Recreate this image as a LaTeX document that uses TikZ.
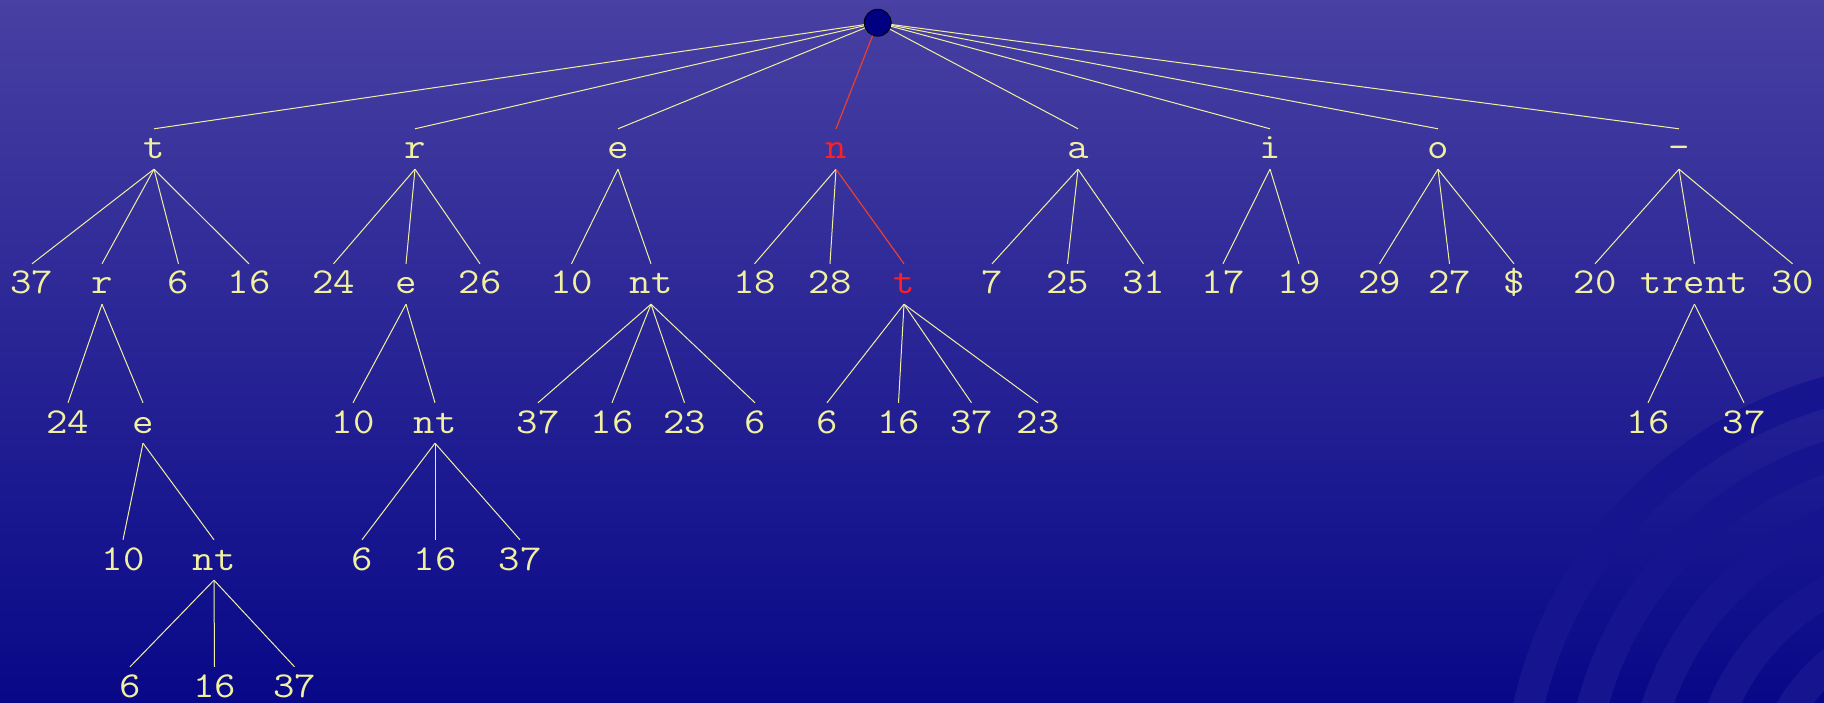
\documentclass[tikz,border=0pt]{standalone}
\usepackage{fontspec}
\newfontfamily\labfont[FakeStretch=1.14]{Latin Modern Mono}
\definecolor{labc}{RGB}{240,240,160}
\definecolor{hlc}{RGB}{255,32,32}
\definecolor{hledge}{RGB}{232,64,48}
\definecolor{bgtop}{RGB}{72,64,162}
\definecolor{bgbot}{RGB}{8,8,136}
\definecolor{ringc}{RGB}{22,20,142}
\definecolor{rootc}{RGB}{0,0,128}
\begin{document}
\begin{tikzpicture}[x=1pt,y=-1pt,
  lab/.style={font=\labfont\fontsize{36.5}{40}\selectfont, text=labc, inner sep=0pt, text height=30pt, text depth=10pt},
  lastrow/.style={text depth=2pt},
  hl/.style={text=hlc},
  link/.style={draw=labc, line width=1pt},
  hllink/.style={draw=hledge, line width=1.2pt}]
\useasboundingbox (0,0) rectangle (1824,703);
\shade[top color=bgtop, bottom color=bgbot] (0,0) rectangle (1824,703);
\begin{scope}
\clip (0,0) rectangle (1824,703);
\foreach \r in {437,375,313,251,189}{
  \fill[ringc, even odd rule] (1940,798) circle[radius=\r pt] (1940,798) circle[radius={(\r-31)*1pt}];
}
\end{scope}
% root
\node[circle, fill=rootc, draw=black, line width=0.8pt, minimum size=27pt, inner sep=0pt] (root) at (877.7,22.7) {};
% row 1
\node[lab] (n1t) at (154,149) {t};
\node[lab] (n1r) at (415,149) {r};
\node[lab] (n1e) at (618,149) {e};
\node[lab,hl] (n1n) at (836,149) {n};
\node[lab] (n1a) at (1078,149) {a};
\node[lab] (n1i) at (1270,149) {i};
\node[lab] (n1o) at (1438,149) {o};
\node[lab] (n1d) at (1679,149) {-};
% row 2
\node[lab] (t37) at (32,284) {37};
\node[lab] (tr) at (102,284) {r};
\node[lab] (t6) at (178.5,284) {6};
\node[lab] (t16) at (249,284) {16};
\node[lab] (r24) at (333.5,284) {24};
\node[lab] (re) at (406,284) {e};
\node[lab] (r26) at (480,284) {26};
\node[lab] (e10) at (571.5,284) {10};
\node[lab] (ent) at (651,284) {nt};
\node[lab] (n18) at (754.5,284) {18};
\node[lab] (n28) at (830,284) {28};
\node[lab,hl] (nt) at (904,284) {t};
\node[lab] (a7) at (992,284) {7};
\node[lab] (a25) at (1067.5,284) {25};
\node[lab] (a31) at (1143.5,284) {31};
\node[lab] (i17) at (1223,284) {17};
\node[lab] (i19) at (1299,284) {19};
\node[lab] (o29) at (1379.5,284) {29};
\node[lab] (o27) at (1449.5,284) {27};
\node[lab] (odl) at (1514,284) {\$};
\node[lab] (d20) at (1595,284) {20};
\node[lab] (dtr) at (1694.4,284) {trent};
\node[lab] (d30) at (1792.5,284) {30};
% row 3
\node[lab] (tr24) at (68,423) {24};
\node[lab] (tre) at (143,423) {e};
\node[lab] (re10) at (353,423) {10};
\node[lab] (rent) at (435,423) {nt};
\node[lab] (ent37) at (538,423) {37};
\node[lab] (ent16) at (612,423) {16};
\node[lab] (ent23) at (684.5,423) {23};
\node[lab] (ent6) at (755,423) {6};
\node[lab] (nt6) at (827,423) {6};
\node[lab] (nt16) at (898.5,423) {16};
\node[lab] (nt37) at (971.5,423) {37};
\node[lab] (nt23) at (1038,423) {23};
\node[lab] (dtr16) at (1648,423) {16};
\node[lab] (dtr37) at (1744,423) {37};
% row 4
\node[lab] (tre10) at (123,560) {10};
\node[lab] (tnt) at (214,560) {nt};
\node[lab] (rent6) at (362,560) {6};
\node[lab] (rent16) at (435,560) {16};
\node[lab] (rent37) at (520,560) {37};
% row 5
\node[lab,lastrow] (tnt6) at (130,683) {6};
\node[lab,lastrow] (tnt16) at (214.5,683) {16};
\node[lab,lastrow] (tnt37) at (294.5,683) {37};
% edges from root
\foreach \c in {n1t,n1r,n1e,n1a,n1i,n1o,n1d}
  \draw[link] (root) -- (\c.north);
\draw[hllink] (root) -- (n1n.north);
% other edges
\foreach \p/\c in {n1t/t37,n1t/tr,n1t/t6,n1t/t16,
  n1r/r24,n1r/re,n1r/r26,
  n1e/e10,n1e/ent,
  n1n/n18,n1n/n28,
  n1a/a7,n1a/a25,n1a/a31,
  n1i/i17,n1i/i19,
  n1o/o29,n1o/o27,n1o/odl,
  n1d/d20,n1d/dtr,n1d/d30,
  tr/tr24,tr/tre,
  re/re10,re/rent,
  ent/ent37,ent/ent16,ent/ent23,ent/ent6,
  nt/nt6,nt/nt16,nt/nt37,nt/nt23,
  dtr/dtr16,dtr/dtr37,
  tre/tre10,tre/tnt,
  rent/rent6,rent/rent16,rent/rent37,
  tnt/tnt6,tnt/tnt16,tnt/tnt37}
  \draw[link] (\p.south) -- (\c.north);
\draw[hllink] (n1n.south) -- (nt.north);
\end{tikzpicture}
\end{document}
